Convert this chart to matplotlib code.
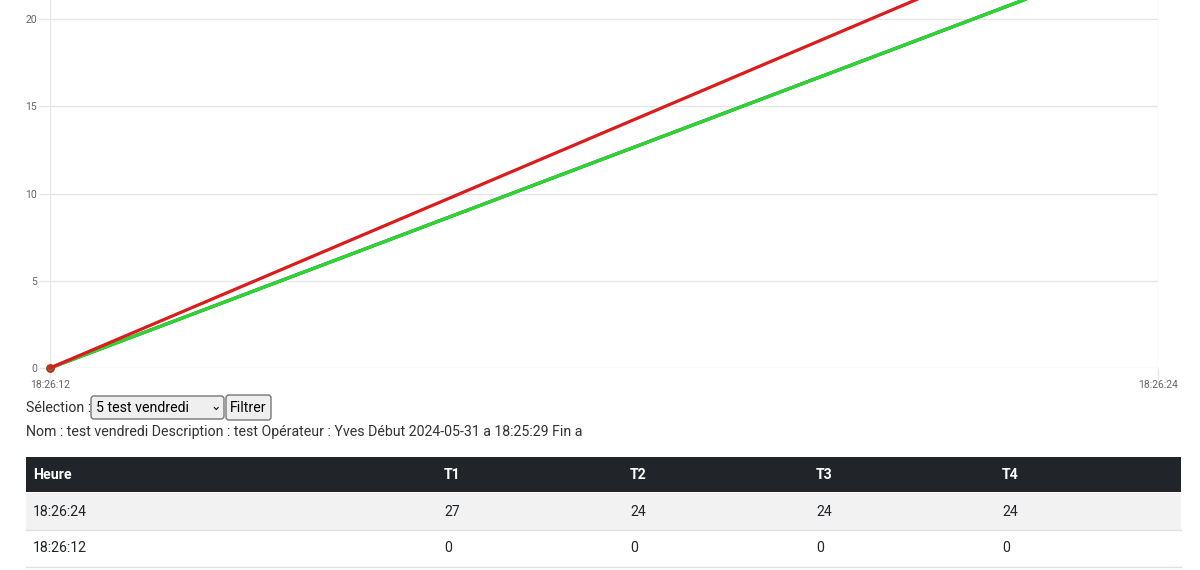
import matplotlib
matplotlib.use("Agg")
import matplotlib.pyplot as plt
from matplotlib.patches import Rectangle, FancyBboxPatch

plt.rcParams['font.family'] = ['Roboto', 'DejaVu Sans']

# ---- data ----
times = ["18:26:12", "18:26:24"]
seconds = [0, 12]
T1 = [0, 27]
T2 = [0, 24]
T3 = [0, 24]
T4 = [0, 24]
series_names = ["T1", "T2", "T3", "T4"]
series_colors = ["#dc1c1c", "#2ad82a", "#2a6ad8", "#d8a12a"]
y_ticks = [0, 5, 10, 15, 20]

table_header = ["Heure", "T1", "T2", "T3", "T4"]
table_rows = [
    ["18:26:24", "27", "24", "24", "24"],
    ["18:26:12", "0", "0", "0", "0"],
]
selection_text = "5 test vendredi"
info_text = ("Nom : test vendredi Description : test Opérateur : Yves "
             "Début 2024-05-31 a 18:25:29 Fin a")

W, H = 1200, 570
fig = plt.figure(figsize=(W / 100, H / 100), dpi=100)

# chart axes: y=0 at px 368, y=20 at px 19 -> 17.45 px/unit
px_per_unit = (368 - 19) / 20.0
ymax = 30
ax_left, ax_right = 50, 1158
ax_bottom_px = 368
ax_top_px = ax_bottom_px - ymax * px_per_unit
ax = fig.add_axes([ax_left / W, (H - ax_bottom_px) / H,
                   (ax_right - ax_left) / W, (ax_bottom_px - ax_top_px) / H])
ax.set_xlim(seconds[0], seconds[-1])
ax.set_ylim(0, ymax)
grid_c = "#e6e6e6"
for s in ax.spines.values():
    s.set_visible(False)
ax.set_yticks(y_ticks)
ax.set_xticks(seconds)
ax.set_xticklabels(times)
ax.grid(True, color=grid_c, linewidth=1)
ax.tick_params(axis='both', length=8, width=1, color=grid_c,
               labelsize=7.5, labelcolor="#666666")
ax.tick_params(axis='y', pad=1.5)
ax.tick_params(axis='x', pad=1)
ax.set_axisbelow(True)

data = [T1, T2, T3, T4]
for i in [3, 2, 1, 0]:
    ax.plot(seconds, data[i], color=series_colors[i], linewidth=2.3,
            marker='o', markersize=5, markerfacecolor=series_colors[i] + "88",
            markeredgecolor=series_colors[i], clip_on=False, zorder=3 + (3 - i),
            solid_capstyle='round')

# ---- HTML-like part ----
ov = fig.add_axes([0, 0, 1, 1])
ov.set_xlim(0, W)
ov.set_ylim(H, 0)
ov.axis('off')
ov.patch.set_visible(False)

txt_c = "#212529"
info_c = "#333333"
ov.text(26, 408, "Sélection :", fontsize=10.2, color=info_c, va='center', ha='left')
ov.add_patch(FancyBboxPatch((91, 396), 133, 23, boxstyle="round,pad=0,rounding_size=3",
                            facecolor="#efefef", edgecolor="#767676", linewidth=1))
ov.text(96, 408, selection_text, fontsize=10.2, color="#000000", va='center', ha='left')
ov.text(216, 406, "⌄", fontsize=9, color="#000000", va='center', ha='center',
        family=['DejaVu Sans'])
ov.add_patch(FancyBboxPatch((226, 395), 45, 25, boxstyle="round,pad=0,rounding_size=3",
                            facecolor="#efefef", edgecolor="#767676", linewidth=1))
ov.text(248.5, 408, "Filtrer", fontsize=10.2, color="#000000", va='center', ha='center')
ov.text(26, 432, info_text, fontsize=10.2, color=info_c, va='center', ha='left')

# table
tx0, tx1 = 26, 1181
col_x = [33, 444, 630, 816, 1002]
ov.add_patch(Rectangle((tx0, 457), tx1 - tx0, 35, facecolor="#212529", edgecolor='none'))
for x, h in zip(col_x, table_header):
    ov.text(x, 475, h, fontsize=10.2, color="white", fontweight='bold', va='center', ha='left')
row_top = 493
row_h = 37
for r, row in enumerate(table_rows):
    y0 = row_top + r * row_h
    if r % 2 == 0:
        ov.add_patch(Rectangle((tx0, y0), tx1 - tx0, row_h, facecolor="#f2f2f2", edgecolor='none'))
    ov.plot([tx0, tx1], [y0 + row_h - 0.5, y0 + row_h - 0.5], color="#dee2e6", linewidth=1)
    for x, v in zip(col_x, row):
        ov.text(x, y0 + row_h / 2, v, fontsize=10.2, color=txt_c, va='center', ha='left')

fig.savefig("out.png", dpi=100)
